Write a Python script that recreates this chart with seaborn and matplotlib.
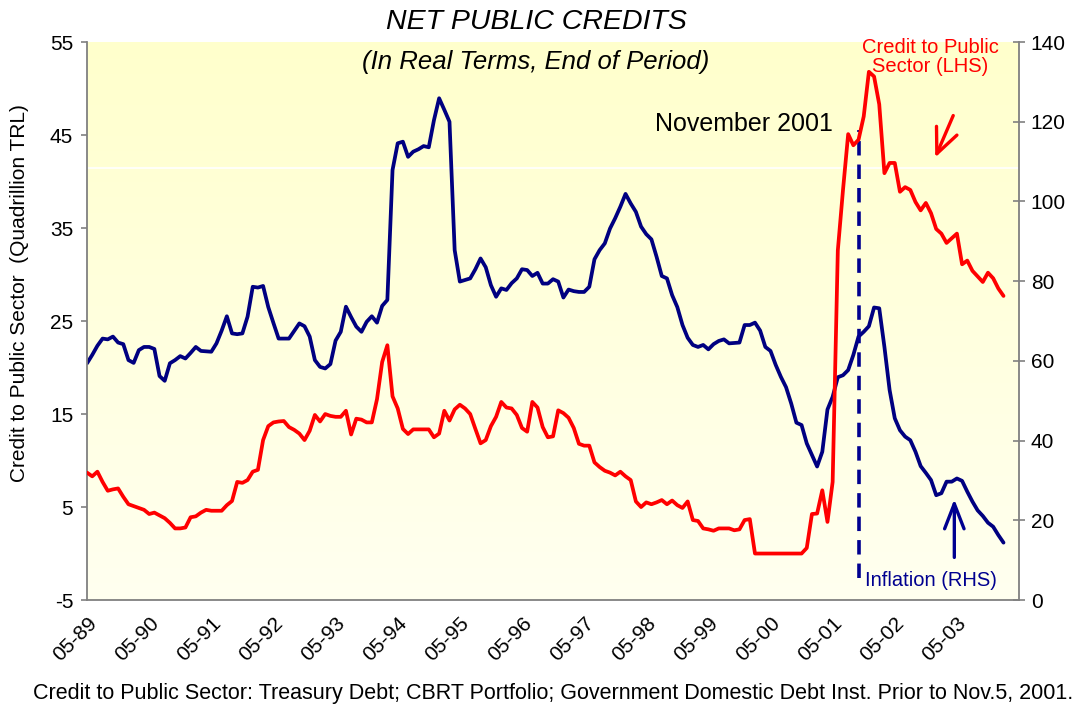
import numpy as np
import pandas as pd
import seaborn as sns
import matplotlib.pyplot as plt

# monthly data starting May 1989
credit_lhs = [
    8.7, 8.3, 8.8, 7.7, 6.75, 6.9, 7.0, 6.1, 5.3, 5.1,
    4.9, 4.7, 4.25, 4.4, 4.1, 3.8, 3.3, 2.7, 2.7, 2.8,
    3.9, 4.0, 4.4, 4.7, 4.6, 4.6, 4.6, 5.2, 5.65, 7.7,
    7.6, 7.9, 8.8, 9.0, 12.2, 13.7, 14.1, 14.2, 14.25, 13.6,
    13.3, 12.9, 12.2, 13.2, 14.9, 14.2, 15.0, 14.8, 14.7, 14.7,
    15.35, 12.8, 14.5, 14.4, 14.1, 14.1, 16.6, 20.6, 22.4, 16.9,
    15.6, 13.4, 12.85, 13.35, 13.35, 13.35, 13.35, 12.5, 12.9, 15.35,
    14.3, 15.5, 16.0, 15.6, 15.0, 13.4, 11.85, 12.2, 13.7, 14.7,
    16.3, 15.7, 15.6, 14.9, 13.5, 13.1, 16.3, 15.7, 13.6, 12.5,
    12.6, 15.4, 15.1, 14.6, 13.5, 11.8, 11.6, 11.6, 9.8, 9.3,
    8.9, 8.7, 8.4, 8.8, 8.3, 7.9, 5.6, 5.0, 5.5, 5.3,
    5.5, 5.75, 5.3, 5.7, 5.2, 4.9, 5.6, 3.6, 3.5, 2.7,
    2.6, 2.45, 2.7, 2.7, 2.7, 2.5, 2.6, 3.6, 3.7, 0.0,
    0.0, 0.0, 0.0, 0.0, 0.0, 0.0, 0.0, 0.0, 0.0, 0.6,
    4.25, 4.3, 6.8, 3.4, 7.7, 32.6, 39.1, 45.1, 43.9, 44.5,
    47.0, 51.8, 51.3, 48.3, 40.9, 42.0, 42.0, 38.9, 39.4, 39.1,
    37.8, 36.9, 37.7, 36.6, 34.9, 34.4, 33.4, 33.9, 34.4, 31.1,
    31.5, 30.4, 29.8, 29.2, 30.2, 29.6, 28.5, 27.7,
]

inflation_rhs = [
    59.4, 61.5, 63.8, 65.6, 65.4, 66.1, 64.6, 64.2, 60.2, 59.5,
    62.7, 63.5, 63.5, 63.0, 56.2, 55.0, 59.4, 60.2, 61.2, 60.6,
    62.0, 63.5, 62.5, 62.4, 62.3, 64.4, 67.6, 71.2, 66.9, 66.7,
    66.9, 71.1, 78.6, 78.4, 78.8, 73.5, 69.5, 65.6, 65.6, 65.6,
    67.5, 69.4, 68.7, 66.1, 60.2, 58.5, 58.1, 59.2, 65.1, 67.3,
    73.6, 71.0, 68.6, 67.3, 69.8, 71.2, 69.6, 73.8, 75.3, 107.9,
    114.6, 115.0, 111.2, 112.5, 113.1, 113.9, 113.6, 120.4, 125.9, 123.0,
    120.0, 87.8, 79.9, 80.3, 80.7, 83.0, 85.7, 83.5, 79.0, 76.1,
    78.2, 77.8, 79.5, 80.7, 83.0, 82.8, 81.3, 82.1, 79.4, 79.4,
    80.5, 79.9, 75.9, 77.9, 77.5, 77.3, 77.3, 78.6, 85.5, 87.8,
    89.5, 93.2, 95.8, 98.7, 101.9, 99.5, 97.4, 93.7, 91.8, 90.5,
    86.1, 81.3, 80.7, 76.5, 73.5, 69.0, 65.8, 64.0, 63.5, 64.0,
    62.9, 64.2, 65.0, 65.4, 64.4, 64.5, 64.6, 69.0, 69.0, 69.6,
    67.6, 63.5, 62.5, 59.0, 56.0, 53.4, 49.3, 44.5, 43.9, 39.3,
    36.4, 33.5, 37.2, 47.8, 51.0, 55.9, 56.4, 57.7, 61.5, 66.1,
    67.3, 68.7, 73.4, 73.2, 63.5, 52.7, 45.6, 42.6, 41.0, 40.1,
    37.2, 33.6, 31.9, 30.1, 26.3, 26.8, 29.7, 29.7, 30.5, 29.9,
    27.2, 24.7, 22.5, 21.1, 19.4, 18.4, 16.3, 14.4,
]

months = pd.period_range("1989-05", periods=len(credit_lhs), freq="M")
tick_months = pd.period_range("1989-05", "2003-05", freq="12M")
tick_labels = [p.strftime("%m-%y") for p in tick_months]
nov_2001 = 149  # month index of the crisis marker

df = pd.DataFrame({"t": np.arange(len(months)),
                   "credit": credit_lhs,
                   "inflation": inflation_rhs})

sns.set_style("white")
plt.rcParams["font.family"] = ["Liberation Sans", "DejaVu Sans"]
plt.rcParams["text.color"] = "black"
plt.rcParams["axes.labelcolor"] = "black"
plt.rcParams["xtick.color"] = "black"
plt.rcParams["ytick.color"] = "black"
plt.rcParams["axes.unicode_minus"] = False

fig = plt.figure(figsize=(10.72, 7.08), dpi=100)
ax2 = fig.add_axes([0.0812, 0.1525, 0.8694, 0.7881])
ax = ax2.twinx()
# left axis (red) on top of right axis (blue)
ax.yaxis.tick_left()
ax.yaxis.set_label_position("left")
ax2.yaxis.tick_right()
ax2.yaxis.set_label_position("right")
ax.set_zorder(ax2.get_zorder() + 1)
ax.patch.set_visible(False)

# yellow gradient background
grad = np.linspace(0, 1, 256).reshape(-1, 1)
top = np.array([255, 255, 204]) / 255
bot = np.array([255, 255, 240]) / 255
img = top[None, None, :] * (1 - grad[:, :, None]) + bot[None, None, :] * grad[:, :, None]
ax2.imshow(img, extent=[0, 180, 0, 140], aspect="auto", zorder=0, origin="upper")
ax2.axhline(108.4, color="white", lw=1.2, zorder=1)

sns.lineplot(data=df, x="t", y="inflation", ax=ax2, color="#000080", lw=2.7, zorder=3)
sns.lineplot(data=df, x="t", y="credit", ax=ax, color="#ff0000", lw=2.7, zorder=3)

ax2.vlines(nov_2001, 5.5, 118, colors="#000090", linestyles=(0, (4, 2.5)), lw=2.6, zorder=4)

ax2.set_xlim(0, 180)
ax.set_ylim(-5, 55)
ax2.set_ylim(0, 140)
ax.set_yticks(range(-5, 56, 10))
ax2.set_yticks(range(0, 141, 20))
ax2.set_xticks(np.arange(0, 181, 12))
ax2.set_xticklabels(tick_labels + [""], rotation=45, ha="right", rotation_mode="anchor", fontsize=15)
ax.tick_params(axis="x", bottom=False, top=False, labelbottom=False, labeltop=False)

ax.set_xlabel("")
ax2.set_xlabel("")
ax2.set_ylabel("")
ax.set_ylabel("Credit to Public Sector  (Quadrillion TRL)", fontsize=15, labelpad=10)
ax.yaxis.set_label_coords(-0.062, 0.55)

axis_gray = "#808080"
for a in (ax, ax2):
    for s in a.spines.values():
        s.set_visible(False)
ax.spines["left"].set_visible(True)
ax.spines["left"].set_color(axis_gray)
ax2.spines["bottom"].set_visible(True)
ax2.spines["bottom"].set_color(axis_gray)
ax2.spines["right"].set_visible(True)
ax2.spines["right"].set_color(axis_gray)
for sp in ("left", "bottom", "right"):
    for a in (ax, ax2):
        a.spines[sp].set_linewidth(1.3)

ax.tick_params(axis="y", direction="out", length=4, width=1.2, color=axis_gray, labelsize=15, pad=6)
ax2.tick_params(axis="y", direction="inout", length=9, width=1.2, color=axis_gray, labelsize=15, pad=4)
ax2.tick_params(axis="x", direction="inout", length=9, width=1.2, color=axis_gray, pad=5)

# titles and notes
fig.text(0.5, 1 - 22 / 708, "NET PUBLIC CREDITS", ha="center", va="center",
         fontsize=20.5, style="italic")
fig.text(0.5, 1 - 62 / 708, "(In Real Terms, End of Period)", ha="center", va="center",
         fontsize=18.5, style="italic")
fig.text(655 / 1072, 1 - 124 / 708, "November 2001", ha="left", va="center", fontsize=18)
fig.text(930 / 1072, 1 - 57 / 708, "Credit to Public\nSector (LHS)", ha="center", va="center",
         fontsize=14.5, color="#ff0000", linespacing=1.0)
fig.text(865 / 1072, 1 - 580 / 708, "Inflation (RHS)", ha="left", va="center",
         fontsize=14.5, color="#000090")
fig.text(553 / 1072, 1 - 693 / 708,
         "Credit to Public Sector: Treasury Debt; CBRT Portfolio; Government Domestic Debt Inst. Prior to Nov.5, 2001.",
         ha="center", va="center", fontsize=15.5)

ax2.annotate("", xy=(163.6, 110.4), xytext=(167.5, 122.2),
             arrowprops=dict(arrowstyle="->,head_length=1.8,head_width=0.8", color="#ff0000", lw=2.4))
ax2.annotate("", xy=(167.5, 26.0), xytext=(167.5, 10.0),
             arrowprops=dict(arrowstyle="->,head_length=1.8,head_width=0.7", color="#000090", lw=2.4))

fig.savefig("out.png", dpi=100, facecolor="white")
